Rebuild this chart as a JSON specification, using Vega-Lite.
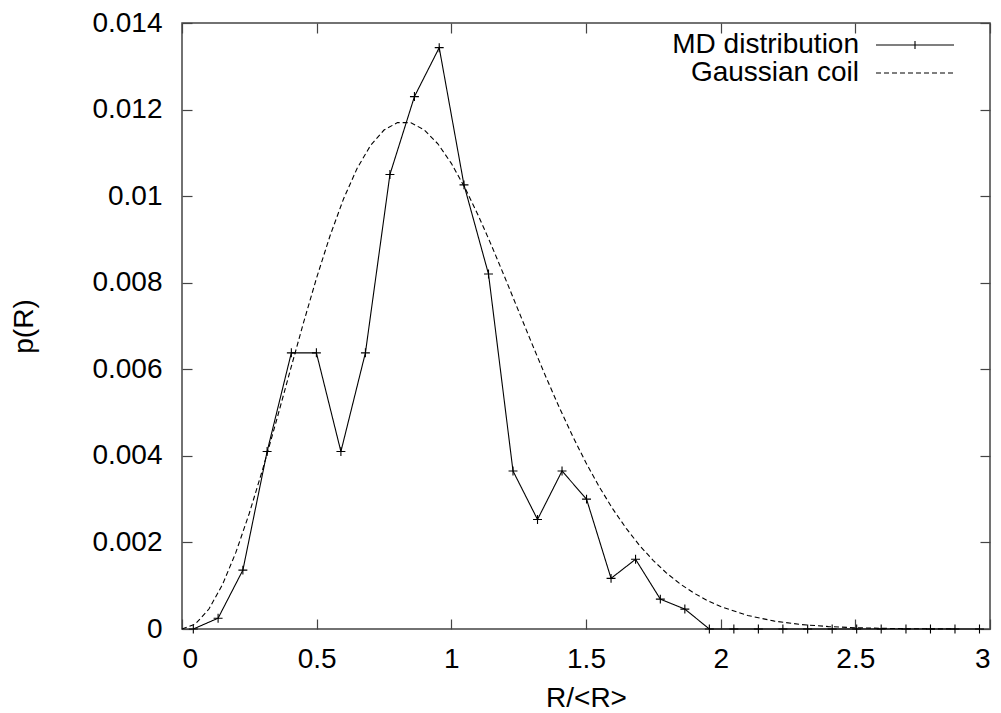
{
  "$schema": "https://vega.github.io/schema/vega-lite/v6.json",
  "width": 808,
  "height": 606,
  "autosize": {"type": "none"},
  "padding": {"left": 182, "top": 23, "right": 11, "bottom": 84},
  "background": "white",
  "config": {
    "font": "Liberation Sans",
    "view": {"stroke": "#444", "strokeWidth": 1.5},
    "axis": {
      "domain": false,
      "grid": false,
      "tickColor": "#444",
      "tickWidth": 1.2,
      "tickSize": -10,
      "labelFont": "Liberation Sans",
      "labelFontSize": 28,
      "labelColor": "#000",
      "titleFont": "Liberation Sans",
      "titleFontSize": 28,
      "titleFontWeight": "normal",
      "titleColor": "#000"
    }
  },
  "data": {
    "values": [
      {"series": "MD distribution", "x": 0.042, "y": 0},
      {"series": "MD distribution", "x": 0.134, "y": 0.00025},
      {"series": "MD distribution", "x": 0.226, "y": 0.00136},
      {"series": "MD distribution", "x": 0.316, "y": 0.0041},
      {"series": "MD distribution", "x": 0.406, "y": 0.00638},
      {"series": "MD distribution", "x": 0.499, "y": 0.00638},
      {"series": "MD distribution", "x": 0.59, "y": 0.0041},
      {"series": "MD distribution", "x": 0.681, "y": 0.00638},
      {"series": "MD distribution", "x": 0.772, "y": 0.0105},
      {"series": "MD distribution", "x": 0.863, "y": 0.0123},
      {"series": "MD distribution", "x": 0.955, "y": 0.01343},
      {"series": "MD distribution", "x": 1.047, "y": 0.01026},
      {"series": "MD distribution", "x": 1.138, "y": 0.0082},
      {"series": "MD distribution", "x": 1.229, "y": 0.00365},
      {"series": "MD distribution", "x": 1.32, "y": 0.00253},
      {"series": "MD distribution", "x": 1.411, "y": 0.00365},
      {"series": "MD distribution", "x": 1.502, "y": 0.003},
      {"series": "MD distribution", "x": 1.593, "y": 0.00117},
      {"series": "MD distribution", "x": 1.684, "y": 0.00161},
      {"series": "MD distribution", "x": 1.776, "y": 0.00069},
      {"series": "MD distribution", "x": 1.867, "y": 0.00046},
      {"series": "MD distribution", "x": 1.958, "y": 0},
      {"series": "MD distribution", "x": 2.049, "y": 0},
      {"series": "MD distribution", "x": 2.14, "y": 0},
      {"series": "MD distribution", "x": 2.231, "y": 0},
      {"series": "MD distribution", "x": 2.323, "y": 0},
      {"series": "MD distribution", "x": 2.414, "y": 0},
      {"series": "MD distribution", "x": 2.505, "y": 0},
      {"series": "MD distribution", "x": 2.596, "y": 0},
      {"series": "MD distribution", "x": 2.688, "y": 0},
      {"series": "MD distribution", "x": 2.779, "y": 0},
      {"series": "MD distribution", "x": 2.87, "y": 0},
      {"series": "MD distribution", "x": 2.961, "y": 0},
      {"series": "Gaussian coil", "x": 0, "y": 0},
      {"series": "Gaussian coil", "x": 0.05, "y": 0.000117},
      {"series": "Gaussian coil", "x": 0.1, "y": 0.000462},
      {"series": "Gaussian coil", "x": 0.15, "y": 0.001021},
      {"series": "Gaussian coil", "x": 0.2, "y": 0.001769},
      {"series": "Gaussian coil", "x": 0.25, "y": 0.002675},
      {"series": "Gaussian coil", "x": 0.3, "y": 0.003699},
      {"series": "Gaussian coil", "x": 0.35, "y": 0.004799},
      {"series": "Gaussian coil", "x": 0.4, "y": 0.005931},
      {"series": "Gaussian coil", "x": 0.45, "y": 0.007051},
      {"series": "Gaussian coil", "x": 0.5, "y": 0.008117},
      {"series": "Gaussian coil", "x": 0.55, "y": 0.009091},
      {"series": "Gaussian coil", "x": 0.6, "y": 0.009941},
      {"series": "Gaussian coil", "x": 0.65, "y": 0.01064},
      {"series": "Gaussian coil", "x": 0.7, "y": 0.011172},
      {"series": "Gaussian coil", "x": 0.75, "y": 0.011527},
      {"series": "Gaussian coil", "x": 0.8, "y": 0.0117},
      {"series": "Gaussian coil", "x": 0.85, "y": 0.011697},
      {"series": "Gaussian coil", "x": 0.9, "y": 0.011528},
      {"series": "Gaussian coil", "x": 0.95, "y": 0.011209},
      {"series": "Gaussian coil", "x": 1.0, "y": 0.010758},
      {"series": "Gaussian coil", "x": 1.05, "y": 0.010199},
      {"series": "Gaussian coil", "x": 1.1, "y": 0.009554},
      {"series": "Gaussian coil", "x": 1.15, "y": 0.008848},
      {"series": "Gaussian coil", "x": 1.2, "y": 0.008103},
      {"series": "Gaussian coil", "x": 1.25, "y": 0.007341},
      {"series": "Gaussian coil", "x": 1.3, "y": 0.006581},
      {"series": "Gaussian coil", "x": 1.35, "y": 0.005839},
      {"series": "Gaussian coil", "x": 1.4, "y": 0.005128},
      {"series": "Gaussian coil", "x": 1.45, "y": 0.004459},
      {"series": "Gaussian coil", "x": 1.5, "y": 0.00384},
      {"series": "Gaussian coil", "x": 1.55, "y": 0.003276},
      {"series": "Gaussian coil", "x": 1.6, "y": 0.002768},
      {"series": "Gaussian coil", "x": 1.65, "y": 0.002318},
      {"series": "Gaussian coil", "x": 1.7, "y": 0.001922},
      {"series": "Gaussian coil", "x": 1.75, "y": 0.00158},
      {"series": "Gaussian coil", "x": 1.8, "y": 0.001287},
      {"series": "Gaussian coil", "x": 1.85, "y": 0.001039},
      {"series": "Gaussian coil", "x": 1.9, "y": 0.000832},
      {"series": "Gaussian coil", "x": 1.95, "y": 0.00066},
      {"series": "Gaussian coil", "x": 2.0, "y": 0.000519},
      {"series": "Gaussian coil", "x": 2.1, "y": 0.000313},
      {"series": "Gaussian coil", "x": 2.2, "y": 0.000182},
      {"series": "Gaussian coil", "x": 2.3, "y": 0.000103},
      {"series": "Gaussian coil", "x": 2.4, "y": 0.000056},
      {"series": "Gaussian coil", "x": 2.5, "y": 0.000029},
      {"series": "Gaussian coil", "x": 2.6, "y": 0.000015},
      {"series": "Gaussian coil", "x": 2.7, "y": 0.000007},
      {"series": "Gaussian coil", "x": 2.8, "y": 0.000003},
      {"series": "Gaussian coil", "x": 2.87, "y": 0.000002}
    ]
  },
  "layer": [
    {
      "mark": {"type": "line", "color": "#000", "strokeWidth": 1.1},
      "encoding": {
        "x": {
          "field": "x", "type": "quantitative",
          "scale": {"domain": [0, 3], "nice": false, "zero": false},
          "axis": {
            "orient": "bottom", "title": "R/<R>",
            "values": [0, 0.5, 1, 1.5, 2, 2.5, 3], "format": "~g",
            "labelPadding": 26, "titlePadding": 11
          }
        },
        "y": {
          "field": "y", "type": "quantitative",
          "scale": {"domain": [0, 0.014], "nice": false},
          "axis": {
            "orient": "left", "title": "p(R)",
            "values": [0, 0.002, 0.004, 0.006, 0.008, 0.01, 0.012, 0.014], "format": "~g",
            "labelPadding": 30, "titlePadding": 53
          }
        },
        "strokeDash": {
          "field": "series", "type": "nominal",
          "scale": {"domain": ["MD distribution", "Gaussian coil"], "range": [[1, 0], [5, 3]]},
          "legend": {
            "title": null,
            "orient": "none",
            "legendX": 719,
            "legendY": 8,
            "padding": 0,
            "labelFont": "Liberation Sans",
            "labelFontSize": 28,
            "labelColor": "#000",
            "labelAlign": "right",
            "labelOffset": -70,
            "labelLimit": 0,
            "symbolSize": 169,
            "symbolStrokeColor": "#000",
            "symbolStrokeWidth": 1.1,
            "symbolType": "M-6,0H6",
            "rowPadding": 0,
            "encode": {
              "symbols": {
                "update": {
                  "shape": {"signal": "datum.value === 'MD distribution' ? 'M-6,0H6M0,-0.6V0.6' : 'M-6,0H6'"}
                }
              }
            }
          }
        }
      }
    },
    {
      "transform": [{"filter": "datum.series === 'MD distribution'"}],
      "mark": {
        "type": "point",
        "shape": "M-1,0H1M0,-1V1",
        "size": 80,
        "filled": false,
        "stroke": "#000",
        "strokeWidth": 1.1,
        "opacity": 1
      },
      "encoding": {
        "x": {
          "field": "x", "type": "quantitative",
          "axis": {"orient": "top", "title": null, "labels": false, "values": [0, 0.5, 1, 1.5, 2, 2.5, 3]}
        },
        "y": {
          "field": "y", "type": "quantitative",
          "axis": {"orient": "right", "title": null, "labels": false, "values": [0, 0.002, 0.004, 0.006, 0.008, 0.01, 0.012, 0.014]}
        }
      }
    }
  ],
  "resolve": {"axis": {"x": "independent", "y": "independent"}}
}
